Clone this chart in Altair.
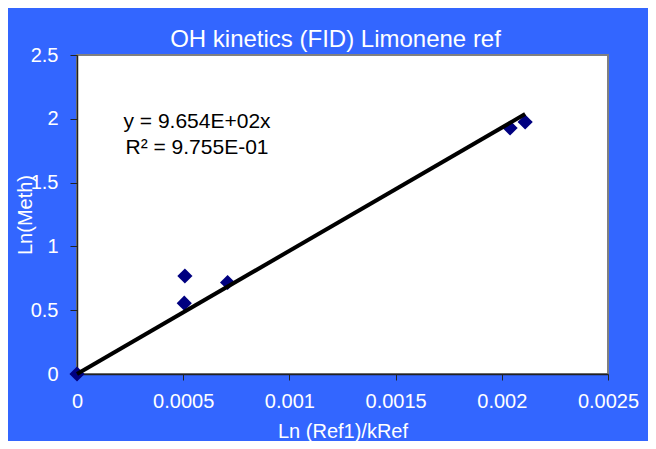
import altair as alt
import pandas as pd

# ---- data ----
x_vals = [0.0, 0.000508, 0.000505, 0.000709, 0.002039, 0.00211]
y_vals = [0.0, 0.768, 0.555, 0.717, 1.928, 1.975]
slope = 965.4
eq_lines = ["y = 9.654E+02x", "R² = 9.755E-01"]
eq_x = [0.000565, 0.000565]
eq_y = [1.928, 1.724]
x_ticks = [0, 0.0005, 0.001, 0.0015, 0.002, 0.0025]
y_ticks = [0, 0.5, 1, 1.5, 2, 2.5]

FONT = "Liberation Sans"
BLUE = "#3366FF"

pts = pd.DataFrame({"x": x_vals, "y": y_vals})
trend = pd.DataFrame({"x": [0.0, max(x_vals)]})
eq = pd.DataFrame({"x": eq_x, "y": eq_y, "t": eq_lines})

xscale = alt.Scale(domain=[0, 0.0025], nice=False, zero=False)
yscale = alt.Scale(domain=[0, 2.5], nice=False, zero=False)

xaxis = alt.Axis(
    values=x_ticks, format="~g", grid=False, labelFlush=False,
    title="Ln (Ref1)/kRef", titleColor="white", titleFontSize=20,
    titleFont=FONT, titleFontWeight="normal", titleBaseline="alphabetic", titleY=63,
    labelColor="white", labelFontSize=20, labelFont=FONT, labelPadding=11,
    tickSize=6, tickColor="#222222", domainColor="#222222", domainWidth=1.5,
)
yaxis = alt.Axis(
    values=y_ticks, format="~g", grid=False, labelFlush=False,
    title="Ln(Meth)", titleColor="white", titleFontSize=20, titleFont=FONT,
    titleFontWeight="normal", titleAngle=270, titleX=-52, titleY=159.5,
    titleBaseline="middle", titleAlign="center",
    labelColor="white", labelFontSize=20, labelFont=FONT, labelPadding=12,
    tickSize=7, tickColor="#222222", domainColor="#222222", domainWidth=1.5,
)

points = alt.Chart(pts).mark_point(
    shape="diamond", filled=True, color="#000080", size=230, opacity=1
).encode(
    x=alt.X("x:Q", scale=xscale, axis=xaxis),
    y=alt.Y("y:Q", scale=yscale, axis=yaxis),
)

line = alt.Chart(trend).transform_calculate(
    y=f"{slope} * datum.x"
).mark_line(color="black", strokeWidth=4).encode(
    x=alt.X("x:Q", scale=xscale),
    y=alt.Y("y:Q", scale=yscale),
)

text = alt.Chart(eq).mark_text(
    font=FONT, fontSize=21, color="black", align="center", baseline="alphabetic"
).encode(
    x=alt.X("x:Q", scale=xscale),
    y=alt.Y("y:Q", scale=yscale),
    text="t:N",
)

chart = alt.layer(points, line, text).properties(
    width=531, height=319,
    title=alt.TitleParams(
        "OH kinetics (FID) Limonene ref", color="white", fontSize=24, font=FONT,
        fontWeight="normal", anchor="middle", frame="group", baseline="alphabetic",
        offset=6, dx=-7, dy=32,
    ),
    background=BLUE,
    autosize=alt.AutoSizeParams(type="none"),
    padding={"left": 69, "top": 47, "right": 40, "bottom": 67},
).configure_view(
    fill="white", stroke="#808080", strokeWidth=2
)

chart.save("out.html", embed_options={"renderer": "svg", "actions": False})
